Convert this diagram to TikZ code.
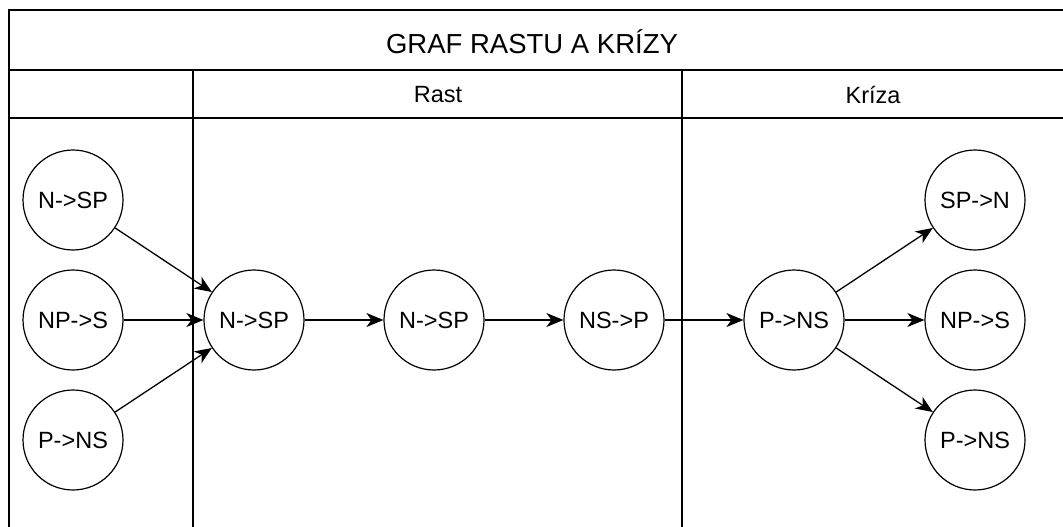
\documentclass[tikz,border=0pt]{standalone}
\usepackage{fontspec}
\setmainfont{Liberation Sans}
\usetikzlibrary{arrows.meta}
\begin{document}
\begin{tikzpicture}[x=1pt,y=-1pt,
  state/.style={circle,draw,line width=1.2pt,minimum size=100pt,inner sep=0pt,
    font=\fontsize{23.5}{28}\selectfont},
  edge/.style={line width=1.3pt,-{Stealth[length=17pt,width=14pt,inset=5pt]}},
  frame/.style={line width=1.3pt},
  hdr/.style={font=\fontsize{23.5}{28}\selectfont,inner sep=0pt},
  ttl/.style={font=\fontsize{27.5}{32}\selectfont,inner sep=0pt}]
\useasboundingbox (0,0) rectangle (1063,527);
% frame
\draw[frame] (1063,10) -- (9,10) -- (9,527);
\draw[frame] (9,70) -- (1063,70);
\draw[frame] (9,118) -- (1063,118);
\draw[frame] (193,70) -- (193,527);
\draw[frame] (682,70) -- (682,527);
% titles
\node[ttl] (title) at (532,42) {GRAF RASTU A KRÍZY};
\node[hdr] (rast) at (438,95) {Rast};
\node[hdr] (kriza) at (873,95) {Kríza};
% nodes
\node[state] (a1) at (73,200) {N->SP};
\node[state] (a2) at (73,320) {NP->S};
\node[state] (a3) at (73,440) {P->NS};
\node[state] (m1) at (254,320) {N->SP};
\node[state] (m2) at (434,320) {N->SP};
\node[state] (m3) at (614,320) {NS->P};
\node[state] (r1) at (794,320) {P->NS};
\node[state] (o1) at (975,200) {SP->N};
\node[state] (o2) at (975,320) {NP->S};
\node[state] (o3) at (975,440) {P->NS};
% edges
\draw[edge] (a1) -- (m1);
\draw[edge] (a2) -- (m1);
\draw[edge] (a3) -- (m1);
\draw[edge] (m1) -- (m2);
\draw[edge] (m2) -- (m3);
\draw[edge] (m3) -- (r1);
\draw[edge] (r1) -- (o1);
\draw[edge] (r1) -- (o2);
\draw[edge] (r1) -- (o3);
\end{tikzpicture}
\end{document}
